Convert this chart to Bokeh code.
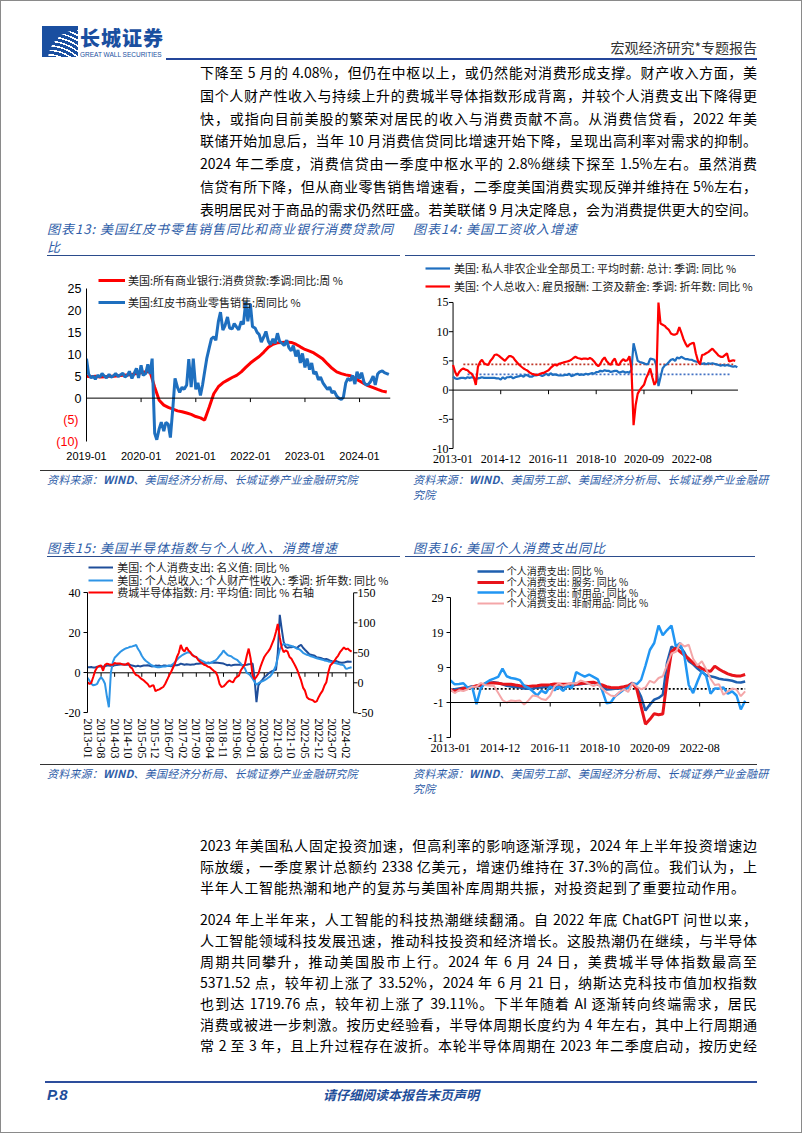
import pandas as pd
from bokeh.plotting import figure
from bokeh.models import (Div, Range1d, LinearAxis, FixedTicker, DatetimeTickFormatter,
                          Legend, LegendItem, Span)
from bokeh.layouts import column, row
from bokeh.embed import file_html
from bokeh.resources import INLINE
from bokeh.core.properties import value

# ============================ DATA ============================
# Chart 13 (semi-monthly Redbook, monthly consumer loans), start 2019-01
c13_redbook_start = "2019-01-01"
c13_redbook = [
    9.0, 5.5, 4.6, 5.0, 4.3, 5.2, 4.8, 5.6, 5.0, 4.6, 5.4, 4.8,
    5.1, 5.6, 4.9, 5.3, 5.7, 4.8, 5.2, 6.1, 4.5, 5.6, 6.8, 4.6,
    7.5, 5.2, 5.6, 7.7, 5.5, 9.0, -8.0, -9.5, -7.0, -5.5, -7.5, -5.5,
    -6.0, -9.0, -2.0, 4.5, 2.4, 1.3, 2.5, 2.0, 3.0, 8.9, 2.5, 9.0,
    2.0, 3.5, 0.6, 3.0, 6.0, 9.0, 11.5, 13.5, 14.0, 13.2, 17.5, 19.6,
    15.5, 16.5, 18.5, 16.0, 15.8, 17.0, 16.2, 15.6, 17.5, 16.8, 22.0, 17.5,
    21.5, 16.3, 16.0, 15.0, 14.5, 12.8, 14.0, 15.2, 13.0, 12.2, 13.5, 12.5,
    14.8, 13.0, 12.5, 12.0, 13.2, 11.5, 10.8, 12.0, 9.5, 11.0, 8.0, 10.2,
    7.0, 9.0, 6.5, 8.0, 5.5, 6.0, 4.2, 4.8, 3.5, 2.8, 2.0, 2.5,
    1.2, 1.6, 0.5, 0.0, -0.3, 0.2, 3.5, 4.5, 4.0, 5.2, 3.2, 6.0,
    4.5, 5.8, 3.5, 3.0, 3.2, 3.8, 5.0, 3.0, 5.5, 6.0, 6.2, 5.8, 5.6, 5.4]
c13_loans_start = "2019-01-01"
c13_loans = [
    5.0, 4.9, 5.0, 4.8, 4.9, 5.0, 5.0, 5.1, 5.2, 5.3, 5.4, 5.6,
    5.8, 6.0, 6.0, 2.5, -0.5, -1.6, -2.1, -2.5, -2.9, -3.1, -3.4, -3.7,
    -4.2, -4.5, -5.0, -2.0, 1.0, 2.6, 3.5, 4.1, 4.7, 5.2, 6.0, 7.0,
    8.0, 8.8, 9.5, 10.5, 11.6, 12.3, 12.6, 12.7, 12.8, 12.7, 12.3, 11.7,
    11.1, 10.7, 10.3, 9.6, 8.9, 7.8, 6.8, 6.0, 5.6, 5.3, 5.1, 4.5,
    3.9, 3.3, 2.8, 2.4, 2.0, 1.6, 1.4]
c13_xticks = ["2019-01", "2020-01", "2021-01", "2022-01", "2023-01", "2024-01"]
c13_yticks_pos = [0, 5, 10, 15, 20, 25]
c13_yticks_neg = [-10, -5]
c13_labels = ["美国:所有商业银行:消费贷款:季调:同比:周 %", "美国:红皮书商业零售销售:周同比 %"]

# Chart 14 (monthly, start 2013-01)
c14_start = "2013-01-01"
c14_axis_end = "2024-06-10"
c14_hourly = [
    2.3, 2.0, 1.9, 2.0, 2.1, 2.1, 2.0, 2.2, 2.1, 2.2, 2.1, 1.9,
    2.0, 2.1, 2.2, 2.1, 2.1, 2.1, 2.1, 2.1, 2.1, 2.0, 2.0, 1.8,
    2.2, 1.9, 2.2, 2.2, 2.3, 2.0, 2.2, 2.3, 2.4, 2.5, 2.3, 2.6,
    2.5, 2.3, 2.3, 2.5, 2.5, 2.6, 2.6, 2.4, 2.6, 2.8, 2.5, 2.9,
    2.6, 2.7, 2.6, 2.5, 2.5, 2.5, 2.6, 2.6, 2.8, 2.4, 2.5, 2.7,
    2.8, 2.6, 2.7, 2.6, 2.8, 2.7, 2.8, 2.9, 2.8, 3.1, 3.1, 3.3,
    3.2, 3.4, 3.3, 3.3, 3.1, 3.2, 3.3, 3.3, 3.0, 3.1, 3.2, 3.0,
    3.1, 3.0, 3.5, 8.0, 6.6, 5.0, 4.8, 4.7, 4.6, 4.4, 4.5, 5.4,
    5.3, 5.2, 4.2, 0.7, 2.2, 3.7, 4.2, 4.4, 4.8, 5.2, 5.3, 5.0,
    5.6, 5.4, 5.7, 5.5, 5.3, 5.3, 5.2, 5.2, 5.0, 4.9, 4.8, 4.6,
    4.5, 4.6, 4.4, 4.6, 4.5, 4.6, 4.5, 4.4, 4.3, 4.2, 4.3, 4.2,
    4.3, 4.2, 4.1, 4.0, 4.1, 3.9]
c14_wages = [
    4.3, 3.1, 2.4, 3.1, 3.5, 3.7, 3.5, 3.4, 3.0, 2.8, 2.2, 0.9,
    4.0, 4.8, 5.2, 4.6, 4.4, 4.3, 5.0, 5.4, 6.0, 6.1, 5.9, 5.6,
    5.3, 5.0, 5.4, 5.8, 5.8, 5.6, 5.1, 4.7, 4.3, 4.0, 3.7, 3.5,
    3.3, 3.0, 2.8, 2.7, 2.6, 2.6, 2.8, 2.9, 3.0, 3.2, 3.4, 3.8,
    4.1, 4.4, 4.2, 4.5, 4.6, 4.7, 4.8, 4.9, 5.0, 5.2, 5.5, 5.7,
    5.5, 5.4, 5.3, 5.4, 5.4, 5.3, 5.5, 5.3, 4.9, 4.4, 4.1, 4.5,
    5.2, 5.6, 5.0, 4.6, 4.3, 5.0, 5.4, 4.4, 4.3, 4.9, 5.3, 5.0,
    5.1, 5.8, 3.7, -6.0, -2.6, -0.6, 0.0, 0.5, 0.9, 2.0, 2.8, 3.7,
    2.2, 0.9, 1.5, 15.0, 11.4, 11.2, 11.0, 10.6, 10.3, 9.7, 9.5, 9.5,
    9.7, 10.8, 9.9, 8.8, 8.0, 7.4, 7.8, 8.0, 8.1, 6.3, 5.0, 4.4,
    6.0, 6.1, 6.3, 6.5, 6.8, 7.1, 6.7, 6.3, 5.9, 5.7, 5.7, 6.0,
    6.3, 4.9, 5.0, 5.1, 5.0]
c14_avg_hourly = 2.7
c14_avg_hourly_span = ["2013-08-01", "2024-03-01"]
c14_avg_wages = 4.4
c14_avg_wages_span = ["2013-06-01", "2024-04-01"]
c14_xticks = ["2013-01", "2014-12", "2016-11", "2018-10", "2020-09", "2022-08"]
c14_yticks = [-10, -5, 0, 5, 10, 15]
c14_labels = ["美国: 私人非农企业全部员工: 平均时薪: 总计: 季调: 同比 %",
              "美国: 个人总收入: 雇员报酬: 工资及薪金: 季调: 折年数: 同比 %"]

# Chart 15 (monthly, start 2013-01)
c15_start = "2013-01-01"
c15_axis_end = "2024-06-01"
c15_pce = [
    2.8, 2.8, 2.9, 2.6, 2.7, 3.0, 3.1, 3.1, 3.0, 3.3, 3.6, 3.7,
    3.5, 3.4, 3.8, 3.9, 4.0, 4.1, 4.2, 4.1, 4.0, 4.0, 4.0, 3.6,
    3.4, 3.2, 3.5, 3.2, 3.4, 3.6, 3.7, 3.8, 3.5, 3.2, 3.3, 3.6,
    3.5, 3.6, 3.2, 3.6, 3.6, 3.4, 3.5, 3.3, 3.6, 3.8, 3.8, 4.0,
    4.6, 4.3, 4.0, 4.3, 4.2, 4.0, 4.1, 4.2, 4.5, 4.5, 4.7, 4.8,
    4.5, 4.6, 5.1, 4.9, 5.2, 5.0, 5.1, 5.0, 4.9, 4.8, 4.6, 4.2,
    3.8, 4.0, 3.6, 3.9, 4.0, 4.0, 4.0, 4.0, 3.8, 3.9, 4.0, 4.3,
    4.4, 4.6, -2.5, -14.7, -6.3, -4.7, -3.5, -2.2, -1.5, -0.5, 0.2, 0.8,
    1.2, 1.5, 10.0, 29.0, 22.0, 15.5, 13.0, 12.5, 12.8, 12.8, 13.0, 12.7,
    12.5, 13.5, 14.0, 12.5, 11.5, 10.5, 9.5, 9.0, 8.8, 8.5, 7.8, 7.6,
    7.4, 7.0, 6.8, 6.9, 6.6, 6.0, 5.8, 5.7, 5.9, 5.5, 5.1, 5.0,
    5.1, 5.4, 5.6, 5.5, 5.5]
c15_property = [
    -2.5, -4.0, -5.5, -6.3, -6.0, -5.5, -3.5, -2.2, -3.5, -5.5, -12.0, -17.2,
    0.0, 5.3, 7.5, 8.5, 9.5, 10.5, 11.2, 11.8, 12.3, 12.6, 13.0, 13.2,
    13.5, 14.0, 12.0, 10.5, 8.5, 7.0, 6.0, 5.3, 4.5, 3.8, 3.4, 3.0,
    2.8, 2.8, 3.0, 3.1, 3.2, 3.4, 3.6, 3.7, 4.3, 5.3, 6.5, 7.5,
    8.3, 9.0, 9.5, 10.0, 10.3, 9.8, 9.0, 8.2, 7.8, 7.0, 6.5, 6.0,
    5.5, 5.0, 4.8, 4.8, 5.2, 5.8, 6.2, 7.2, 8.5, 9.5, 11.2, 10.0,
    9.0, 8.5, 8.3, 7.5, 7.0, 6.5, 5.5, 4.5, 3.2, 2.3, 0.0, -0.5,
    -1.5, -3.0, -4.5, -6.0, -5.2, -4.7, -4.2, -3.8, -3.2, -2.5, -1.8, -0.5,
    1.5, 3.7, 7.5, 11.7, 13.5, 14.5, 14.2, 14.0, 13.7, 13.4, 13.0, 12.6,
    12.0, 11.8, 11.0, 10.0, 9.5, 9.0, 8.7, 8.3, 8.0, 7.6, 7.3, 7.0,
    6.8, 6.5, 6.2, 6.0, 5.7, 5.5, 5.3, 5.0, 4.8, 4.5, 4.2, 4.0,
    3.7, 2.0, 2.2, 2.5, 2.8]
c15_sox = [
    1, -2, 0, 10, 20, 26, 28, 29, 20, 30, 32, 31,
    30, 30, 33, 32, 32, 32, 31, 30, 31, 33, 26, 24,
    17, 13, 12, 9, 6, 4, 1, -2, -7, -5, -4, -14,
    -12, -11, -9, -7, -2, 5, 12, 18, 25, 32, 43, 50,
    63, 55, 52, 59, 54, 51, 46, 44, 43, 38, 35, 33,
    30, 29, 27, 26, 23, 20, 18, 11, -2, -7, -6, -3,
    1, 4, 2, 1, 7, 10, 12, 21, 26, 30, 45, 57,
    40, 12, 6, 10, 15, 26, 35, 43, 48, 52, 57, 65,
    73, 85, 98, 76, 59, 51, 54, 52, 43, 40, 34, 28,
    21, 12, 4, -8, -13, -24, -27, -28, -29, -32, -31, -24,
    -18, -13, -5, 1, 17, 29, 32, 36, 41, 45, 51, 55,
    59, 56, 57, 54, 52]
c15_xticks = ["2013-01", "2013-08", "2014-03", "2014-10", "2015-05", "2015-12", "2016-07",
              "2017-02", "2017-09", "2018-04", "2018-11", "2019-06", "2020-01", "2020-08",
              "2021-03", "2021-10", "2022-05", "2022-12", "2023-07", "2024-02"]
c15_yticks = [-20, 0, 20, 40]
c15_rticks = [-50, 0, 50, 100, 150]
c15_labels = ["美国: 个人消费支出: 名义值: 同比 %",
              "美国: 个人总收入: 个人财产性收入: 季调: 折年数: 同比 %",
              "费城半导体指数: 月: 平均值: 同比 % 右轴"]

# Chart 16 (every second month, start 2013-01)
c16_start = "2013-01-01"
c16_total = [
    2.5, 2.8, 3.0, 3.2, 3.3, 3.6, 3.6, 3.8, 4.2, 4.6, 4.8, 4.6,
    4.2, 3.8, 3.6, 3.4, 3.3, 3.0, 2.9, 3.0, 3.3, 3.3, 3.5, 3.6,
    3.4, 3.3, 3.5, 3.6, 3.7, 4.1, 4.2, 4.4, 4.5, 4.6, 4.2, 3.6,
    2.7, 2.8, 2.9, 3.0, 3.2, 3.6, 4.6, 3.2, 0.6, -3.3, -1.6, -0.2,
    0.3, 1.2, 10.5, 15.0, 14.2, 15.0, 13.2, 10.8, 9.9, 8.7, 7.7, 6.8,
    6.5, 6.2, 5.8, 5.6, 5.4, 5.2, 4.8, 4.7, 5.0]
c16_services = [
    2.7, 2.2, 2.6, 3.0, 3.2, 3.4, 3.8, 4.0, 4.3, 4.6, 4.6, 4.5,
    4.3, 4.2, 4.2, 4.0, 3.8, 3.7, 3.6, 3.7, 3.8, 4.0, 4.0, 4.1,
    4.3, 4.2, 4.2, 4.2, 4.3, 4.3, 4.4, 4.5, 4.7, 4.8, 4.3, 4.0,
    3.5, 3.3, 3.2, 3.3, 3.5, 3.8, 4.6, 2.8, -2.2, -7.2, -5.8, -4.2,
    -4.5, -4.3, 5.5, 13.5, 14.6, 13.5, 12.5, 11.5, 10.3, 9.5, 8.7, 8.1,
    7.9, 9.4, 8.5, 7.8, 7.2, 6.8, 6.6, 6.6, 7.0]
c16_durable = [
    5.3, 4.2, 4.3, 4.5, 3.2, 3.5, -1.5, 3.0, 4.5, 5.3, 5.8, 6.3,
    8.7, 6.5, 6.0, 5.8, 5.4, 3.8, 3.2, 2.2, 1.0, 2.4, 1.7, 3.6,
    2.5, 3.5, 2.3, 3.8, 3.1, 7.7, 7.0, 6.4, 7.0, 6.3, 5.6, 2.5,
    -1.2, -1.0, 0.8, 1.7, 2.7, 3.2, 4.5, 4.2, 5.5, 9.5, 14.0, 16.0,
    21.0, 18.2, 19.7, 21.0, 15.0, 16.0, 12.0, 4.0, 1.7, 5.0, 8.0, 6.5,
    1.5, 3.0, 3.0, 3.3, 1.5, 2.2, 1.0, -3.0, -0.5]
c16_nondurable = [
    2.7, 1.7, 2.5, 2.3, 2.8, 3.5, 3.5, 4.6, 4.0, 3.8, 3.8, 1.8,
    -0.3, -1.0, -0.4, -0.6, -0.4, -1.6, -0.4, 1.0, 0.8, 0.0, -0.3, 1.0,
    3.6, 4.5, 3.8, 4.2, 4.5, 4.4, 5.3, 4.9, 4.3, 3.7, 4.2, 3.0,
    1.8, 1.0, 0.8, 2.0, 2.8, 2.0, 4.6, 3.5, 2.8, 3.3, 5.2, 4.6,
    6.0, 6.5, 9.8, 13.0, 13.5, 16.0, 15.0, 15.5, 11.5, 9.6, 10.8, 8.5,
    5.8, 4.0, 4.2, 1.2, 2.2, 3.0, 2.7, 0.8, 2.2]
c16_avg = 2.9
c16_avg_span = ["2013-02-01", "2024-05-01"]
c16_base = -1
c16_xticks = ["2013-01", "2014-12", "2016-11", "2018-10", "2020-09", "2022-08"]
c16_yticks = [-11, -1, 9, 19, 29]
c16_labels = ["个人消费支出: 同比 %", "个人消费支出: 服务: 同比 %",
              "个人消费支出: 耐用品: 同比 %", "个人消费支出: 非耐用品: 同比 %"]

# ============================ HELPERS ============================
CJK = "Noto Sans CJK SC"
SERIF = "Liberation Serif"
SANS = "Liberation Sans"
BLUE_TXT = "#2E5DA8"
TICK_MONTHS = 2  # length of hand-drawn axis ticks, in months


def ms(s):
    return pd.Timestamp(s).value / 1e6


def shifted(s, months):
    return ms(pd.Timestamp(s) + pd.DateOffset(months=months))


def dates(start, n, freq):
    return [ms(d) for d in pd.date_range(start, periods=n, freq=freq)]


def base_fig(w, h, xr, yr, ml, mr, mt, mb):
    p = figure(width=w, height=h, x_axis_type="datetime", title=None,
               x_range=Range1d(ms(xr[0]), ms(xr[1])), y_range=Range1d(yr[0], yr[1]),
               output_backend="svg", toolbar_location=None,
               min_border_left=ml, min_border_right=mr, min_border_top=mt,
               min_border_bottom=mb)
    p.outline_line_color = None
    p.xgrid.grid_line_color = None
    p.ygrid.grid_line_color = None
    p.background_fill_color = "white"
    p.border_fill_color = "white"
    return p


def style_x(p, ticks, font, size, standoff, orientation="horizontal"):
    ax = p.xaxis[0]
    ax.ticker = FixedTicker(ticks=[ms(t) for t in ticks])
    f = "%Y-%m"
    ax.formatter = DatetimeTickFormatter(seconds=f, minsec=f, minutes=f, hourmin=f,
                                         hours=f, days=f, months=f, years=f)
    ax.axis_line_color = None
    ax.major_tick_line_color = None
    ax.minor_tick_line_color = None
    ax.major_tick_out = 0
    ax.major_tick_in = 0
    ax.major_label_standoff = standoff
    ax.major_label_text_font = font
    ax.major_label_text_font_size = size
    ax.major_label_text_color = "#000000"
    ax.major_label_orientation = orientation


def style_y(ax, ticks, font, size, tick_out, standoff, overrides=None, bounds=None,
            spine=True, color="#000000"):
    ax.ticker = FixedTicker(ticks=ticks)
    ax.axis_line_color = "black" if spine else None
    ax.axis_line_width = 1
    ax.major_tick_line_color = "black" if tick_out else None
    ax.major_tick_out = tick_out
    ax.major_tick_in = 0
    ax.minor_tick_line_color = None
    ax.major_label_standoff = standoff
    ax.major_label_text_font = font
    ax.major_label_text_font_size = size
    ax.major_label_text_color = color
    if bounds is not None:
        ax.bounds = bounds
    if overrides:
        ax.major_label_overrides = overrides


def add_key(p, r, text, vx, vy, glyph_w, standoff, size="11px"):
    lg = Legend(items=[LegendItem(label=value(text), renderers=[r])],
                location=(vx, vy), orientation="vertical", padding=0, margin=0, spacing=0,
                glyph_width=glyph_w, glyph_height=18, label_height=18, label_width=10,
                label_standoff=standoff, label_text_font=CJK, label_text_font_size=size,
                label_text_color="#1a1a1a", border_line_color=None,
                background_fill_alpha=0)
    p.add_layout(lg)


def base_ticks(p, ticks, base, depth, y_range_name="default"):
    xs = [ms(t) for t in ticks]
    p.segment(x0=xs, y0=base, x1=xs, y1=base - depth, line_color="black", line_width=1,
              y_range_name=y_range_name)


def mkdiv(html, w, h):
    return Div(text=html, width=w, height=h, margin=0)


# ============================ CHART 13 ============================
# frame (page px): left 86, right 390, top 258, bottom 450
p13 = base_fig(396, 212, ("2019-01-01", "2024-07-26"), (-11.94, 31.84), 78, 14, 0, 20)
style_x(p13, c13_xticks, SANS, "11px", 1)
style_y(p13.yaxis[0], c13_yticks_pos, SANS, "12.5px", 0, 5, bounds=(-10, 25))
neg_ax = LinearAxis()
style_y(neg_ax, c13_yticks_neg, SANS, "12.5px", 0, -14,
        overrides={t: "(%d)" % (-t) for t in c13_yticks_neg}, spine=False, color="#FF0000")
p13.add_layout(neg_ax, "left")
p13.add_layout(Span(location=0, dimension="width", line_color="black", line_width=1))
base_ticks(p13, c13_xticks[1:], 0, 0.9)
r13a = p13.line(dates(c13_loans_start, len(c13_loans), "MS"), c13_loans,
                line_color="#FF0000", line_width=3)
r13b = p13.line(dates(c13_redbook_start, len(c13_redbook), "SMS"), c13_redbook,
                line_color="#1E6FBF", line_width=3)
add_key(p13, r13a, c13_labels[0], 12, 450 - 289, 27, 3)
add_key(p13, r13b, c13_labels[1], 12, 450 - 310.7, 27, 3)

# ============================ CHART 14 ============================
# frame: left 425, right 776, top 258, bottom 450; value axis drawn at 2013-01
p14 = base_fig(390, 212, ("2011-11-24", "2025-12-27"), (-10.34, 22.53), 21, 18, 0, 20)
style_x(p14, c14_xticks, SERIF, "12px", 4)
style_y(p14.yaxis[0], c14_yticks, SERIF, "12px", 0, -23,
        {t: "-%d" % (-t) for t in c14_yticks if t < 0}, spine=False)
p14.segment(x0=ms(c14_start), y0=min(c14_yticks), x1=ms(c14_start), y1=max(c14_yticks),
            line_color="black", line_width=1)
p14.segment(x0=shifted(c14_start, -TICK_MONTHS), y0=c14_yticks, x1=ms(c14_start),
            y1=c14_yticks, line_color="black", line_width=1)
p14.line([ms(c14_start), ms(c14_axis_end)], [0, 0], line_color="black", line_width=1)
base_ticks(p14, c14_xticks[1:], 0, 0.7)
p14.line([ms(d) for d in c14_avg_wages_span], [c14_avg_wages] * 2, line_color="#C0392B",
         line_width=1.6, line_dash="2 2")
p14.line([ms(d) for d in c14_avg_hourly_span], [c14_avg_hourly] * 2, line_color="#4472C4",
         line_width=1.6, line_dash="2 2")
r14a = p14.line(dates(c14_start, len(c14_hourly), "MS"), c14_hourly,
                line_color="#1F6FC0", line_width=2.2)
r14b = p14.line(dates(c14_start, len(c14_wages), "MS"), c14_wages,
                line_color="#FF0000", line_width=2.2)
add_key(p14, r14a, c14_labels[0], 0, 450 - 276.7, 25, 4)
add_key(p14, r14b, c14_labels[1], 0, 450 - 294.7, 25, 4)

# ============================ CHART 15 ============================
# frame: left 87, right 394, top 559, bottom 737; right value axis drawn at 2024-06
p15 = base_fig(396, 202, ("2012-12-31", "2026-03-04"), (-32.35, 56.65), 79, 10, 0, 24)
p15.extra_y_ranges = {"sox": Range1d(-91.17, 205.5)}
style_x(p15, c15_xticks, SERIF, "12px", -19, "vertical")
style_y(p15.yaxis[0], c15_yticks, SERIF, "12px", 4, 3, {-20: "-20"}, bounds=(-20, 40))
rax = LinearAxis(y_range_name="sox")
style_y(rax, c15_rticks, SERIF, "12px", 0, -37, {-50: "-50"}, spine=False)
p15.add_layout(rax, "right")
p15.segment(x0=ms(c15_axis_end), y0=min(c15_rticks), x1=ms(c15_axis_end), y1=max(c15_rticks),
            line_color="black", line_width=1, y_range_name="sox")
p15.segment(x0=ms(c15_axis_end), y0=c15_rticks, x1=shifted(c15_axis_end, TICK_MONTHS),
            y1=c15_rticks, line_color="black", line_width=1, y_range_name="sox")
p15.line([ms(c15_start), ms(c15_axis_end)], [0, 0], line_color="black", line_width=1)
base_ticks(p15, c15_xticks[1:], 0, 2.0)
r15a = p15.line(dates(c15_start, len(c15_pce), "MS"), c15_pce, line_color="#1F4E9A",
                line_width=2)
r15b = p15.line(dates(c15_start, len(c15_property), "MS"), c15_property,
                line_color="#2E95E6", line_width=2)
r15c = p15.line(dates(c15_start, len(c15_sox), "MS"), c15_sox, line_color="#FF0000",
                line_width=2, y_range_name="sox")
for r, lab, c in zip([r15a, r15b, r15c], c15_labels, [567.0, 579.5, 592.0]):
    add_key(p15, r, lab, 1.3, 737 - (c + 9), 25, 4)

# ============================ CHART 16 ============================
# frame: left 450, right 749, top 559, bottom 737
p16 = base_fig(390, 202, ("2013-01-01", "2024-07-01"), (-11, 39.86), 46, 45, 0, 24)
style_x(p16, c16_xticks, SERIF, "12px", 6)
style_y(p16.yaxis[0], c16_yticks, SERIF, "12px", 4, 3,
        {t: "-%d" % (-t) for t in c16_yticks if t < 0}, bounds=(-11, 29))
p16.add_layout(Span(location=c16_base, dimension="width", line_color="black", line_width=1))
base_ticks(p16, c16_xticks[1:], c16_base, 1.15)
p16.line([ms(d) for d in c16_avg_span], [c16_avg] * 2, line_color="black",
         line_width=1.6, line_dash="2 2")
r16a = p16.line(dates(c16_start, len(c16_total), "2MS"), c16_total, line_color="#1F5FAF",
                line_width=2.5)
r16b = p16.line(dates(c16_start, len(c16_services), "2MS"), c16_services,
                line_color="#E8141B", line_width=3)
r16c = p16.line(dates(c16_start, len(c16_durable), "2MS"), c16_durable,
                line_color="#2196F3", line_width=2.5)
r16d = p16.line(dates(c16_start, len(c16_nondurable), "2MS"), c16_nondurable,
                line_color="#F4A6A8", line_width=2)
for r, lab, c in zip([r16a, r16b, r16c, r16d], c16_labels, [570.7, 581.7, 592.3, 602.7]):
    add_key(p16, r, lab, 26.7, 737 - (c + 9), 27, 3, size="10px")

# ============================ TEXT BLOCKS ============================
F = "font-family:'Noto Sans CJK SC';"
header = mkdiv(f"""
<div style="position:relative;width:786px;height:52px;{F}">
  <div style="position:absolute;left:-8px;top:-8px;width:802px;height:1133px;box-sizing:border-box;border:1px solid #8a8a8a;pointer-events:none;"></div>
  <div style="position:absolute;left:34px;top:18px;width:36px;height:31px;background:#1A4FA0;overflow:hidden;">
    <div style="position:absolute;left:6px;top:4px;width:60px;height:60px;border-radius:50%;
         background:repeating-radial-gradient(circle at 0% 100%, #1A4FA0 0 3px, #ffffff 3px 4.5px);"></div>
  </div>
  <div style="position:absolute;left:72px;top:20px;font-size:20px;line-height:20px;font-weight:900;color:#1A4FA0;letter-spacing:1px;">长城证券</div>
  <div style="position:absolute;left:72px;top:43px;font-family:'Liberation Sans';font-size:6.5px;line-height:8px;color:#1A4FA0;white-space:nowrap;">GREAT WALL SECURITIES</div>
  <div style="position:absolute;right:37px;top:31px;font-size:14px;line-height:16px;color:#333;">宏观经济研究*专题报告</div>
  <div style="position:absolute;left:158px;top:50px;width:591px;height:2px;background:#24469A;"></div>
</div>""", 786, 52)

para1_lines = [
    "下降至 5 月的 4.08%，但仍在中枢以上，或仍然能对消费形成支撑。财产收入方面，美",
    "国个人财产性收入与持续上升的费城半导体指数形成背离，并较个人消费支出下降得更",
    "快，或指向目前美股的繁荣对居民的收入与消费贡献不高。从消费信贷看，2022 年美",
    "联储开始加息后，当年 10 月消费信贷同比增速开始下降，呈现出高利率对需求的抑制。",
    "2024 年二季度，消费信贷由一季度中枢水平的 2.8%继续下探至 1.5%左右。虽然消费",
    "信贷有所下降，但从商业零售销售增速看，二季度美国消费实现反弹并维持在 5%左右，",
    "表明居民对于商品的需求仍然旺盛。若美联储 9 月决定降息，会为消费提供更大的空间。",
]
LN = "text-align:justify;text-align-last:justify;"
para1 = mkdiv(
    f'<div style="position:relative;width:786px;height:160px;{F}font-size:14px;color:#000;">'
    '<div style="position:absolute;left:192px;top:1px;width:557px;">'
    + "".join(f'<div style="height:22.8px;line-height:22.8px;{LN}">{t}</div>' for t in para1_lines)
    + "</div></div>", 786, 160)

TT = f"{F}font-style:italic;font-size:13px;line-height:18px;letter-spacing:1px;color:{BLUE_TXT};white-space:nowrap;"
title13 = mkdiv(f"""<div style="position:relative;width:396px;height:38px;">
<div style="position:absolute;left:39px;top:0;width:353px;height:36px;border-bottom:1px solid #2B4C8C;{TT}">图表13: 美国红皮书零售销售同比和商业银行消费贷款同<br>比</div></div>""", 396, 38)
title14 = mkdiv(f"""<div style="position:relative;width:390px;height:38px;">
<div style="position:absolute;left:1px;top:0;width:350px;height:36px;border-bottom:1px solid #2B4C8C;box-sizing:border-box;padding-left:8px;{TT}">图表14: 美国工资收入增速</div></div>""", 390, 38)
title15 = mkdiv(f"""<div style="position:relative;width:396px;height:59px;">
<div style="position:absolute;left:39px;top:39px;width:353px;height:18px;border-bottom:1px solid #2B4C8C;{TT}">图表15: 美国半导体指数与个人收入、消费增速</div></div>""", 396, 59)
title16 = mkdiv(f"""<div style="position:relative;width:390px;height:59px;">
<div style="position:absolute;left:1px;top:39px;width:350px;height:18px;border-bottom:1px solid #2B4C8C;box-sizing:border-box;padding-left:8px;{TT}">图表16: 美国个人消费支出同比</div></div>""", 390, 59)

ST = f"{F}font-style:italic;font-size:11px;line-height:15px;letter-spacing:0.2px;color:{BLUE_TXT};white-space:nowrap;"
src_a = "资料来源：<b>WIND</b>、美国经济分析局、长城证券产业金融研究院"
src_b = "资料来源：<b>WIND</b>、美国劳工部、美国经济分析局、长城证券产业金融研<br>究院"


def src_div(w, h, line_left, line_w, line_top, text_left, text):
    return mkdiv(f"""<div style="position:relative;width:{w}px;height:{h}px;">
<div style="position:absolute;left:{line_left}px;top:{line_top}px;width:{line_w}px;height:0;border-top:1px solid #333;"></div>
<div style="position:absolute;left:{text_left}px;top:{line_top + 2}px;{ST}">{text}</div></div>""", w, h)


src13 = src_div(396, 30, 32, 364, 0, 39, src_a)
src14 = src_div(390, 30, 0, 353, 0, 9, src_b)
src15 = src_div(396, 39, 32, 364, 3, 39, src_a)
src16 = src_div(390, 39, 0, 353, 3, 9, src_b)

para2_a = [
    "2023 年美国私人固定投资加速，但高利率的影响逐渐浮现，2024 年上半年投资增速边",
    "际放缓，一季度累计总额约 2338 亿美元，增速仍维持在 37.3%的高位。我们认为，上",
]
para2_a_last = "半年人工智能热潮和地产的复苏与美国补库周期共振，对投资起到了重要拉动作用。"
para2_b = [
    "2024 年上半年来，人工智能的科技热潮继续翻涌。自 2022 年底 ChatGPT 问世以来，",
    "人工智能领域科技发展迅速，推动科技投资和经济增长。这股热潮仍在继续，与半导体",
    "周期共同攀升，推动美国股市上行。2024 年 6 月 24 日，美费城半导体指数最高至",
    "5371.52 点，较年初上涨了 33.52%，2024 年 6 月 21 日，纳斯达克科技市值加权指数",
    "也到达 1719.76 点，较年初上涨了 39.11%。下半年随着 AI 逐渐转向终端需求，居民",
    "消费或被进一步刺激。按历史经验看，半导体周期长度约为 4 年左右，其中上行周期通",
    "常 2 至 3 年，且上升过程存在波折。本轮半导体周期在 2023 年二季度启动，按历史经",
]
L2 = "height:21px;line-height:21px;"
para2 = mkdiv(
    f'<div style="position:relative;width:786px;height:257px;{F}font-size:14px;color:#000;">'
    '<div style="position:absolute;left:192px;top:35px;width:557px;">'
    + "".join(f'<div style="{L2}{LN}">{t}</div>' for t in para2_a)
    + f'<div style="{L2}letter-spacing:0.75px;white-space:nowrap;">{para2_a_last}</div>'
    + '<div style="height:11px;"></div>'
    + "".join(f'<div style="{L2}{LN}">{t}</div>' for t in para2_b)
    + "</div></div>", 786, 257)

footer = mkdiv(f"""<div style="position:relative;width:786px;height:60px;{F}">
<div style="position:absolute;left:37px;top:24px;width:712px;height:2px;background:#2D4D9C;"></div>
<div style="position:absolute;left:39px;top:30px;font-family:'Liberation Sans';font-weight:bold;font-style:italic;font-size:15px;line-height:16px;color:#1F4E9A;">P.8</div>
<div style="position:absolute;left:313px;top:30px;width:160px;text-align:center;font-weight:bold;font-style:italic;font-size:13px;line-height:16px;color:#1F4E9A;white-space:nowrap;">请仔细阅读本报告末页声明</div>
</div>""", 786, 60)

layout = column(
    header, para1,
    row(title13, title14, spacing=0),
    row(p13, p14, spacing=0),
    row(src13, src14, spacing=0),
    row(title15, title16, spacing=0),
    row(p15, p16, spacing=0),
    row(src15, src16, spacing=0),
    para2, footer,
    spacing=0, margin=(8, 8, 8, 8),
)

open("out.html", "w").write(file_html(layout, INLINE))
